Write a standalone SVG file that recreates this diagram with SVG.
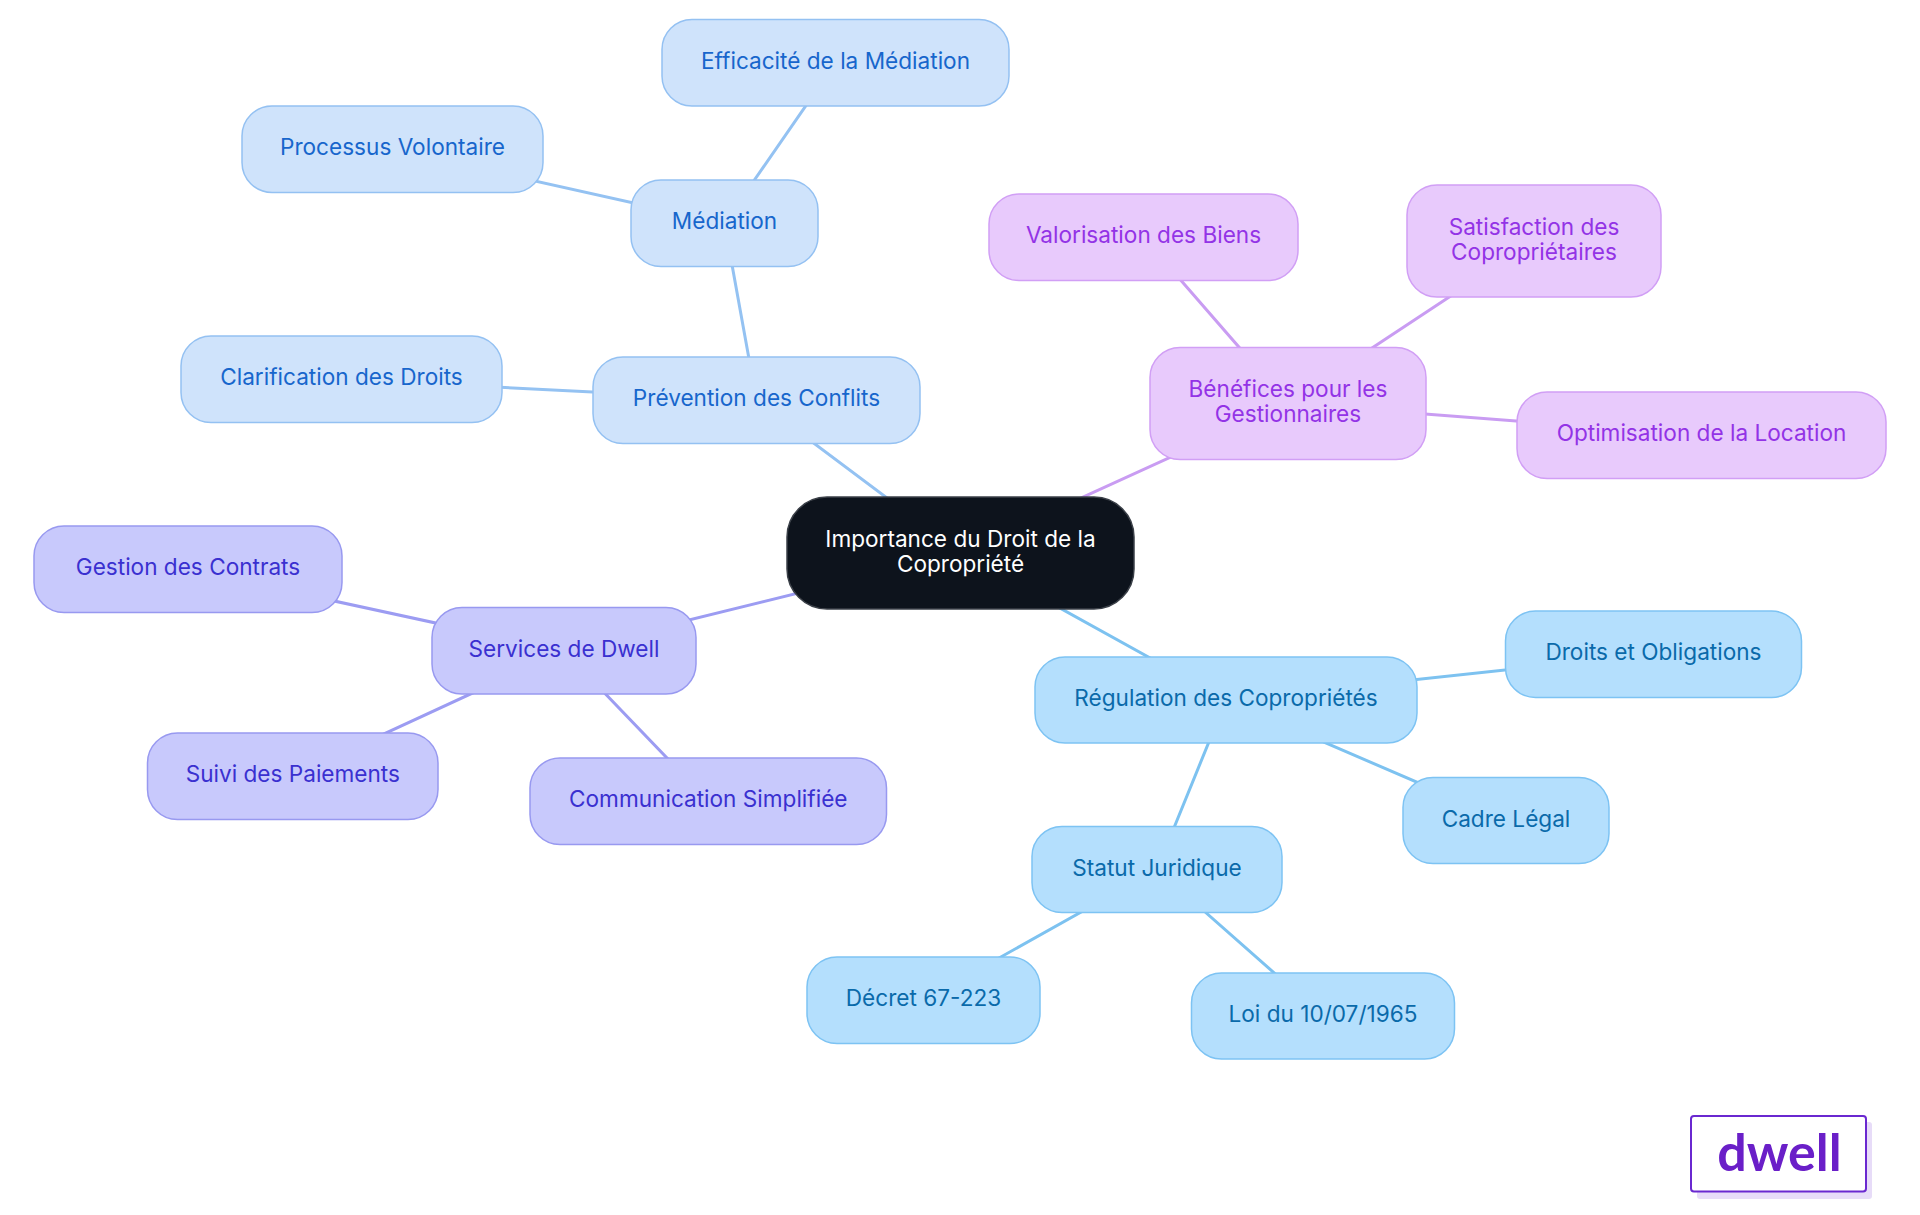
<svg xmlns="http://www.w3.org/2000/svg" width="1920" height="1215" viewBox="0 0 1920 1215">
<style>
text{font-family:Inter,"Noto Sans","Liberation Sans",sans-serif;font-size:22.6px;text-anchor:middle}
.e{fill:none;stroke-width:3;stroke-linecap:round}
.eb{stroke:#94c2f2}.ep{stroke:#c99cf2}.ei{stroke:#9c9cf2}.es{stroke:#7dc2f0}
.nb rect{fill:#cfe3fb;stroke:#94c1f2;stroke-width:1.5}.nb text{fill:#1766cc}
.np rect{fill:#e8cafc;stroke:#d19ff5;stroke-width:1.5}.np text{fill:#9333e6}
.ni rect{fill:#c8c9fc;stroke:#9899f0;stroke-width:1.5}.ni text{fill:#3a30d0}
.ns rect{fill:#b4dffd;stroke:#7dc3f3;stroke-width:1.5}.ns text{fill:#0a6aaa}
.nc rect{fill:#0d131c;stroke:#3b4048;stroke-width:1.5}.nc text{fill:#ffffff}
</style>
<rect width="1920" height="1215" fill="#ffffff"/>
<g id="connectors">
<line class="e eb" x1="960.5" y1="553" x2="756.5" y2="400.3"/>
<line class="e ep" x1="960.5" y1="553" x2="1288" y2="403.5"/>
<line class="e ei" x1="960.5" y1="553" x2="564" y2="650.8"/>
<line class="e es" x1="960.5" y1="553" x2="1226" y2="700"/>
<line class="e eb" x1="756.5" y1="400.3" x2="341.5" y2="379.3"/>
<line class="e eb" x1="756.5" y1="400.3" x2="724.5" y2="223.3"/>
<line class="e eb" x1="724.5" y1="223.3" x2="392.5" y2="149.3"/>
<line class="e eb" x1="724.5" y1="223.3" x2="835.5" y2="62.8"/>
<line class="e ep" x1="1288" y1="403.5" x2="1143.5" y2="237.3"/>
<line class="e ep" x1="1288" y1="403.5" x2="1534" y2="241"/>
<line class="e ep" x1="1288" y1="403.5" x2="1701.5" y2="435.3"/>
<line class="e ei" x1="564" y1="650.8" x2="188" y2="569.3"/>
<line class="e ei" x1="564" y1="650.8" x2="292.8" y2="776"/>
<line class="e ei" x1="564" y1="650.8" x2="708.3" y2="801"/>
<line class="e es" x1="1226" y1="700" x2="1653.5" y2="654"/>
<line class="e es" x1="1226" y1="700" x2="1506" y2="820.5"/>
<line class="e es" x1="1226" y1="700" x2="1157" y2="869.5"/>
<line class="e es" x1="1157" y1="869.5" x2="923.5" y2="1000.3"/>
<line class="e es" x1="1157" y1="869.5" x2="1323" y2="1016"/>
</g>
<g id="n-root" class="nc"><rect x="787" y="497" width="347" height="112" rx="40"/><text x="960.5" y="546.5">Importance du Droit de la</text><text x="960.5" y="571.5">Copropriété</text></g>
<g id="n-prevention" class="nb"><rect x="593" y="357" width="327" height="86.5" rx="30"/><text x="756.5" y="406.3">Prévention des Conflits</text></g>
<g id="n-clarification" class="nb"><rect x="181" y="336" width="321" height="86.5" rx="30"/><text x="341.5" y="385.3">Clarification des Droits</text></g>
<g id="n-mediation" class="nb"><rect x="631" y="180" width="187" height="86.5" rx="30"/><text x="724.5" y="229.3">Médiation</text></g>
<g id="n-processus" class="nb"><rect x="242" y="106" width="301" height="86.5" rx="30"/><text x="392.5" y="155.3">Processus Volontaire</text></g>
<g id="n-efficacite" class="nb"><rect x="662" y="19.5" width="347" height="86.5" rx="30"/><text x="835.5" y="68.8">Efficacité de la Médiation</text></g>
<g id="n-benefices" class="np"><rect x="1150" y="347.5" width="276" height="112" rx="30"/><text x="1288" y="397">Bénéfices pour les</text><text x="1288" y="422">Gestionnaires</text></g>
<g id="n-valorisation" class="np"><rect x="989" y="194" width="309" height="86.5" rx="30"/><text x="1143.5" y="243.3">Valorisation des Biens</text></g>
<g id="n-satisfaction" class="np"><rect x="1407" y="185" width="254" height="112" rx="30"/><text x="1534" y="234.5">Satisfaction des</text><text x="1534" y="259.5">Copropriétaires</text></g>
<g id="n-optimisation" class="np"><rect x="1517" y="392" width="369" height="86.5" rx="30"/><text x="1701.5" y="441.3">Optimisation de la Location</text></g>
<g id="n-services" class="ni"><rect x="432" y="607.5" width="264" height="86.5" rx="30"/><text x="564" y="656.8">Services de Dwell</text></g>
<g id="n-gestion" class="ni"><rect x="34" y="526" width="308" height="86.5" rx="30"/><text x="188" y="575.3">Gestion des Contrats</text></g>
<g id="n-suivi" class="ni"><rect x="147.5" y="733" width="290.5" height="86.5" rx="30"/><text x="292.8" y="782">Suivi des Paiements</text></g>
<g id="n-communication" class="ni"><rect x="530" y="758" width="356.5" height="86.5" rx="30"/><text x="708.3" y="807">Communication Simplifiée</text></g>
<g id="n-regulation" class="ns"><rect x="1035" y="657" width="382" height="86" rx="30"/><text x="1226" y="706">Régulation des Copropriétés</text></g>
<g id="n-droits" class="ns"><rect x="1505.5" y="611" width="296" height="86.5" rx="30"/><text x="1653.5" y="660">Droits et Obligations</text></g>
<g id="n-cadre" class="ns"><rect x="1403" y="777.5" width="206" height="86" rx="30"/><text x="1506" y="826.5">Cadre Légal</text></g>
<g id="n-statut" class="ns"><rect x="1032" y="826.5" width="250" height="86" rx="30"/><text x="1157" y="875.5">Statut Juridique</text></g>
<g id="n-decret" class="ns"><rect x="807" y="957" width="233" height="86.5" rx="30"/><text x="923.5" y="1006.3">Décret 67-223</text></g>
<g id="n-loi" class="ns"><rect x="1191.5" y="973" width="263" height="86" rx="30"/><text x="1323" y="1022">Loi du 10/07/1965</text></g>
<g id="logo">
<rect x="1697" y="1122" width="175" height="77" rx="3" fill="#e7dcf8"/>
<rect x="1691" y="1116" width="175" height="75.5" rx="3" fill="#ffffff" stroke="#6a28d0" stroke-width="2"/>
<text x="1779.5" y="1171" style="font-family:Lato,'Open Sans',sans-serif;font-weight:700;font-size:52px;fill:#6a1fc8">dwell</text>
</g>
</svg>
